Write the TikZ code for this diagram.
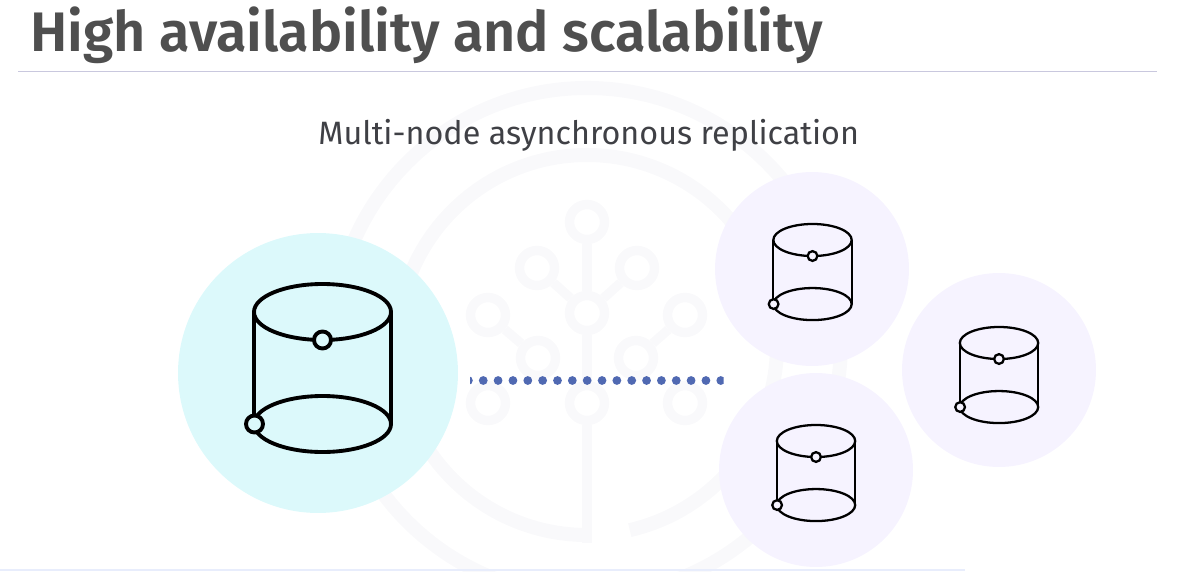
\documentclass[tikz,border=0pt]{standalone}
\usepackage{fontspec}
\setmainfont{Fira Sans}
\newfontfamily\titlefont{Fira Sans SemiBold}
\usetikzlibrary{arrows.meta,positioning}
\definecolor{headc}{HTML}{4F4F4F}
\definecolor{subc}{HTML}{3F4045}
\definecolor{rulec}{HTML}{C9C8DE}
\definecolor{footc}{HTML}{E8EDFC}
\definecolor{logoc}{HTML}{F9F9FB}
\definecolor{mainc}{HTML}{DCF9FB}
\definecolor{repc}{HTML}{F6F3FF}
\definecolor{dotc}{HTML}{5069B2}
\tikzset{
  headline/.style ={anchor=base west,inner sep=0pt,text=headc,font=\titlefont\fontsize{31.7}{36}\selectfont},
  subline/.style  ={anchor=base west,inner sep=0pt,text=subc,font=\fontsize{18.4}{23}\selectfont},
  mainblob/.style ={circle,fill=mainc,minimum size=5.6cm,inner sep=0pt},
  repblob/.style  ={circle,fill=repc,minimum size=3.88cm,inner sep=0pt},
  logoring/.style ={circle,draw=logoc,line width=5.4pt,minimum size=0.7cm,inner sep=0pt},
  logolink/.style ={draw=logoc,line width=5.4pt},
  logoarc/.style  ={draw=logoc,line width=8pt},
  dotline/.style  ={dotc,line width=5pt,line cap=round,dash pattern=on 0pt off 8.45pt},
  pics/dbdrum/.style={code={
    \draw[black] (-68.5,0) -- (-68.5,112) (68.5,0) -- (68.5,112);
    \draw[black] (0,0) ellipse [x radius=68.5,y radius=28];
    \draw[black] (0,112) ellipse [x radius=68.5,y radius=28];
    \filldraw[black,fill=#1] (0,28) circle [radius=8.5];
    \filldraw[black,fill=#1] (-68,112) circle [radius=8.5];
  }},
}

\begin{document}
\begin{tikzpicture}[x=0.02cm,y=-0.02cm]
  \useasboundingbox (0,0) rectangle (1189,571);
  \clip (0,0) rectangle (1189,571);
  % logo behind everything
  \draw[logoarc] (587,342) circle [radius=254];
  \draw[logoarc] (587,345) ++(90:190) arc [start angle=90,end angle=437,radius=190];
  \foreach \nm/\px/\py in {ra/587/222,rb/537/268,rc/637/268,rd/587/313,re/488/315,rf/685/315,
                           rg/538/358,rh/636/358,ri/488/403,rj/587/403,rk/685/403}
    \node[logoring] (\nm) at (\px,\py) {};
  \coordinate (stemend) at (587,543);
  \foreach \from/\to in {ra/rd,rb/rd,rc/rd,re/rg,rf/rh,rd/rj,rj/stemend}
    \draw[logolink] (\from) -- (\to);
  % rules
  \coordinate (headl) at (18,71.5);
  \coordinate (headr) at (1157,71.5);
  \coordinate (footl) at (0,570);
  \coordinate (footr) at (965,570);
  \draw[rulec,line width=1pt] (headl) -- (headr);
  \draw[footc,line width=0.8pt] (footl) -- (footr);
  % text
  \node[headline] (head) at (30,52) {High availability and scalability};
  \node[subline] (sub) at (318,144) {Multi-node asynchronous replication};
  % blobs
  \node[mainblob] (primary) at (318,373) {};
  \node[repblob] (repa) at (812,269) {};
  \node[repblob] (repb) at (999,370) {};
  \node[repblob] (repc) at (816,470) {};
  % replication line
  \coordinate (dotl) at (468.4,380.5);
  \coordinate (dotr) at (723,380.5);
  \begin{scope}
    \clip (470,370) rectangle (723.5,391);
    \draw[dotline] (dotl) -- (dotr);
  \end{scope}
  % cylinders
  \pic[line width=2.2pt] at (322.5,312) {dbdrum=mainc};
  \pic[line width=1.3pt,scale=0.572] at (812.5,240) {dbdrum=repc};
  \pic[line width=1.3pt,scale=0.572] at (999,343) {dbdrum=repc};
  \pic[line width=1.3pt,scale=0.572] at (816,441) {dbdrum=repc};
\end{tikzpicture}
\end{document}
